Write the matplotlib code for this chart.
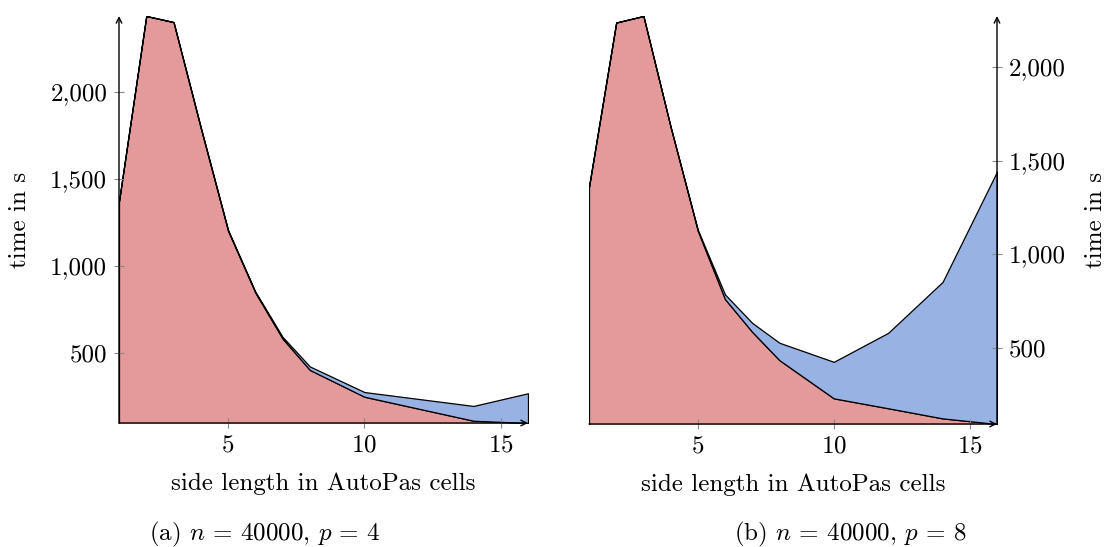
import matplotlib
matplotlib.use("Agg")
import matplotlib.pyplot as plt
from matplotlib.ticker import FuncFormatter

plt.rcParams['font.family'] = 'serif'
plt.rcParams['font.serif'] = ['cmr10', 'DejaVu Serif']
plt.rcParams['mathtext.fontset'] = 'cm'
plt.rcParams['axes.formatter.use_mathtext'] = True

side_length = [1, 2, 3, 4, 5, 6, 7, 8, 10, 12, 14, 16]

# n = 40000, p = 4
a_lower = [1370, 2435, 2400, 1790, 1200, 845, 580, 400, 246, 177, 108, 95]
a_upper = [0, 0, 0, 5, 5, 5, 10, 20, 27, 56, 85, 171]

# n = 40000, p = 8
b_lower = [1360, 2237, 2272, 1680, 1125, 760, 585, 434, 230, 177, 123, 93]
b_upper = [0, 0, 0, 0, 5, 25, 48, 93, 195, 403, 729, 1348]

xticks = [5, 10, 15]
yticks = [500, 1000, 1500, 2000]

red = '#e49a9a'
blue = '#98b2e4'
fs = 18


def thousands(v, pos):
    return f"{int(v):,}"


def panel(ax, lower, upper, side):
    ax.stackplot(side_length, lower, upper, colors=[red, blue],
                 edgecolor='black', linewidth=0.9)
    top = [l + u for l, u in zip(lower, upper)]
    ax.set_xlim(side_length[0], side_length[-1])
    ax.set_ylim(min(lower), max(top))
    ax.set_xticks(xticks)
    ax.set_yticks(yticks)
    ax.yaxis.set_major_formatter(FuncFormatter(thousands))
    ax.tick_params(direction='inout', length=7, width=0.8, color='#888888',
                   labelsize=fs, pad=5)
    for s in ['top', 'right', 'left', 'bottom']:
        ax.spines[s].set_visible(False)
    ax.set_xlabel('side length in AutoPas cells', fontsize=fs, labelpad=11)
    ax.set_ylabel('time in s', fontsize=fs, labelpad=14)
    # axis lines with arrows
    ax.annotate('', xy=(1.0, 0), xytext=(0, 0), xycoords='axes fraction',
                arrowprops=dict(arrowstyle='->', lw=1.0, color='black',
                                shrinkA=0, shrinkB=0))
    xs = 0 if side == 'left' else 1
    ax.annotate('', xy=(xs, 1.0), xytext=(xs, 0), xycoords='axes fraction',
                arrowprops=dict(arrowstyle='->', lw=1.0, color='black',
                                shrinkA=0, shrinkB=0))
    if side == 'right':
        ax.yaxis.tick_right()
        ax.yaxis.set_label_position('right')


fig = plt.figure(figsize=(11.09, 5.47), dpi=100)
ax1 = fig.add_axes([119 / 1109, 1 - 423 / 547, 409 / 1109, 407 / 547])
ax2 = fig.add_axes([589 / 1109, 1 - 424 / 547, 408 / 1109, 408 / 547])
panel(ax1, a_lower, a_upper, 'left')
panel(ax2, b_lower, b_upper, 'right')

fig.text(265 / 1109, 1 - 534 / 547, r'(a) $n$ = 40000, $p$ = 4',
         ha='center', va='center', fontsize=fs)
fig.text(850 / 1109, 1 - 534 / 547, r'(b) $n$ = 40000, $p$ = 8',
         ha='center', va='center', fontsize=fs)

fig.savefig('out.png', dpi=100)
